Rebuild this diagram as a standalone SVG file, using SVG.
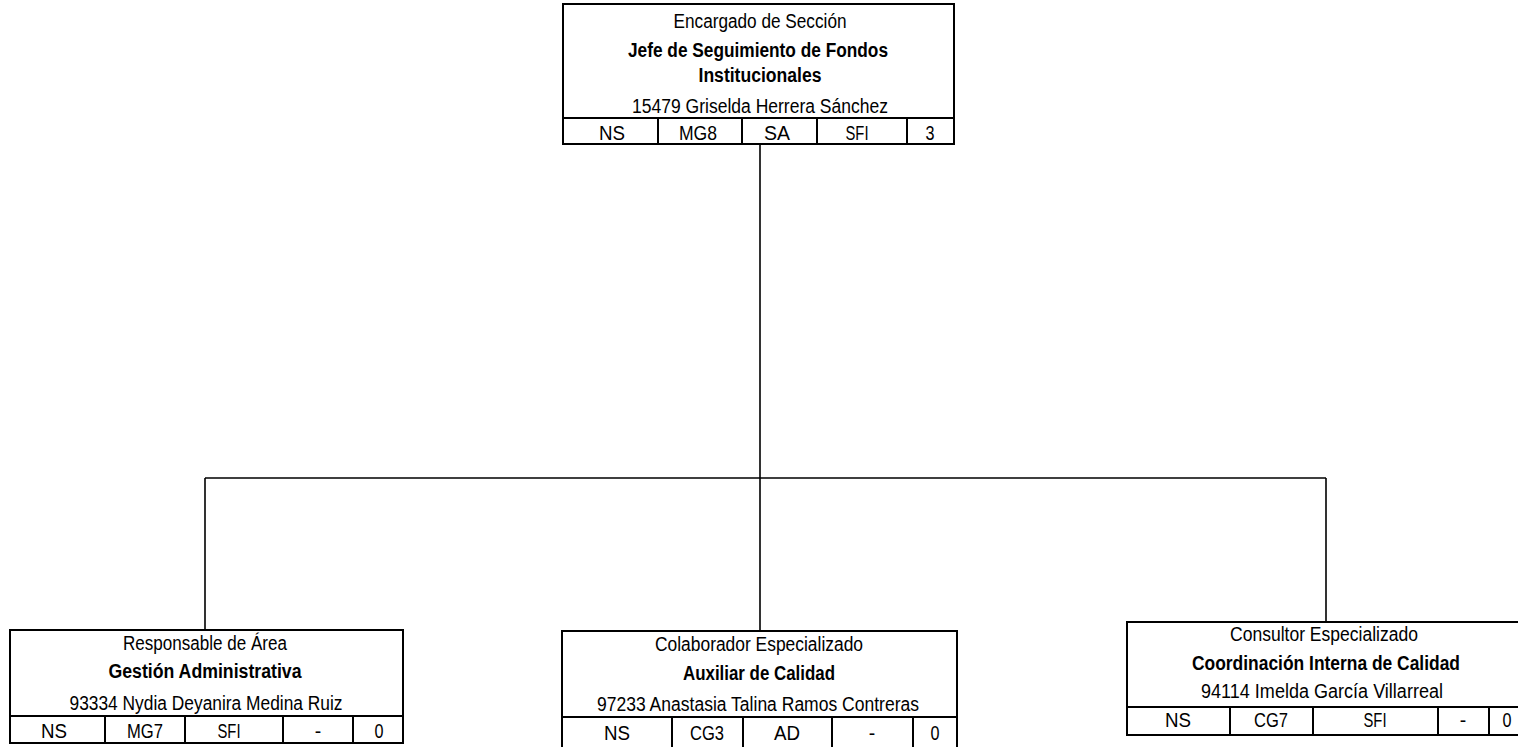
<svg xmlns="http://www.w3.org/2000/svg" width="1518" height="747" viewBox="0 0 1518 747">
<style>
.box{fill:#fff;stroke:#000;stroke-width:2}
.ln{stroke:#000;stroke-width:2;fill:none}
.con{stroke:#000;stroke-width:1.6;fill:none}
text{font-family:"Liberation Sans",Arial,sans-serif;font-size:19.5px;fill:#000;text-anchor:middle}
.b{font-weight:bold}
</style>
<rect width="1518" height="747" fill="#fff"/>
<g id="connectors">
<path class="con" d="M760,144 V478 M205,478 H1326 M205,478 V630 M760,478 V631 M1326,478 V622"/>
</g>
<g id="node-top">
<rect class="box" x="563" y="4" width="391" height="140"/>
<path class="ln" d="M563,118 H954 M658,118 V144 M742,118 V144 M817,118 V144 M907,118 V144"/>
<text x="760" y="28" textLength="173" lengthAdjust="spacingAndGlyphs">Encargado de Sección</text>
<text class="b" x="758" y="57" textLength="260" lengthAdjust="spacingAndGlyphs">Jefe de Seguimiento de Fondos</text>
<text class="b" x="760" y="82" textLength="123" lengthAdjust="spacingAndGlyphs">Institucionales</text>
<text x="760" y="113" textLength="256" lengthAdjust="spacingAndGlyphs">15479 Griselda Herrera Sánchez</text>
<text x="612" y="140" textLength="26" lengthAdjust="spacingAndGlyphs">NS</text><text x="698" y="140" textLength="38" lengthAdjust="spacingAndGlyphs">MG8</text><text x="777" y="140" textLength="26" lengthAdjust="spacingAndGlyphs">SA</text><text x="857" y="140" textLength="23" lengthAdjust="spacingAndGlyphs">SFI</text><text x="930" y="140" textLength="9" lengthAdjust="spacingAndGlyphs">3</text>
</g>
<g id="node-left">
<rect class="box" x="10" y="630" width="393" height="113"/>
<path class="ln" d="M10,716 H403 M105,716 V743 M185,716 V743 M283,716 V743 M353,716 V743"/>
<text x="205" y="650" textLength="164" lengthAdjust="spacingAndGlyphs">Responsable de Área</text>
<text class="b" x="205" y="678" textLength="193" lengthAdjust="spacingAndGlyphs">Gestión Administrativa</text>
<text x="206" y="710" textLength="273" lengthAdjust="spacingAndGlyphs">93334 Nydia Deyanira Medina Ruiz</text>
<text x="54" y="738" textLength="26" lengthAdjust="spacingAndGlyphs">NS</text><text x="145" y="738" textLength="36" lengthAdjust="spacingAndGlyphs">MG7</text><text x="229" y="738" textLength="23" lengthAdjust="spacingAndGlyphs">SFI</text><text x="318" y="738">-</text><text x="379" y="738" textLength="9" lengthAdjust="spacingAndGlyphs">0</text>
</g>
<g id="node-middle">
<rect class="box" x="562" y="631" width="395" height="130"/>
<path class="ln" d="M562,717 H957 M672,717 V747 M743,717 V747 M832,717 V747 M913,717 V747"/>
<text x="759" y="651" textLength="208" lengthAdjust="spacingAndGlyphs">Colaborador Especializado</text>
<text class="b" x="759" y="680" textLength="152" lengthAdjust="spacingAndGlyphs">Auxiliar de Calidad</text>
<text x="758" y="711" textLength="322" lengthAdjust="spacingAndGlyphs">97233 Anastasia Talina Ramos Contreras</text>
<text x="617" y="740" textLength="26" lengthAdjust="spacingAndGlyphs">NS</text><text x="707" y="740" textLength="34" lengthAdjust="spacingAndGlyphs">CG3</text><text x="787" y="740" textLength="26" lengthAdjust="spacingAndGlyphs">AD</text><text x="872" y="740">-</text><text x="935" y="740" textLength="9" lengthAdjust="spacingAndGlyphs">0</text>
</g>
<g id="node-right">
<rect class="box" x="1127" y="622" width="396" height="113"/>
<path class="ln" d="M1127,707 H1523 M1230,707 V735 M1313,707 V735 M1438,707 V735 M1489,707 V735"/>
<text x="1324" y="641" textLength="188" lengthAdjust="spacingAndGlyphs">Consultor Especializado</text>
<text class="b" x="1326" y="670" textLength="268" lengthAdjust="spacingAndGlyphs">Coordinación Interna de Calidad</text>
<text x="1322" y="698" textLength="242" lengthAdjust="spacingAndGlyphs">94114 Imelda García Villarreal</text>
<text x="1178" y="727" textLength="26" lengthAdjust="spacingAndGlyphs">NS</text><text x="1271" y="727" textLength="34" lengthAdjust="spacingAndGlyphs">CG7</text><text x="1375" y="727" textLength="23" lengthAdjust="spacingAndGlyphs">SFI</text><text x="1463" y="727">-</text><text x="1507" y="727" textLength="9" lengthAdjust="spacingAndGlyphs">0</text>
</g>
</svg>
